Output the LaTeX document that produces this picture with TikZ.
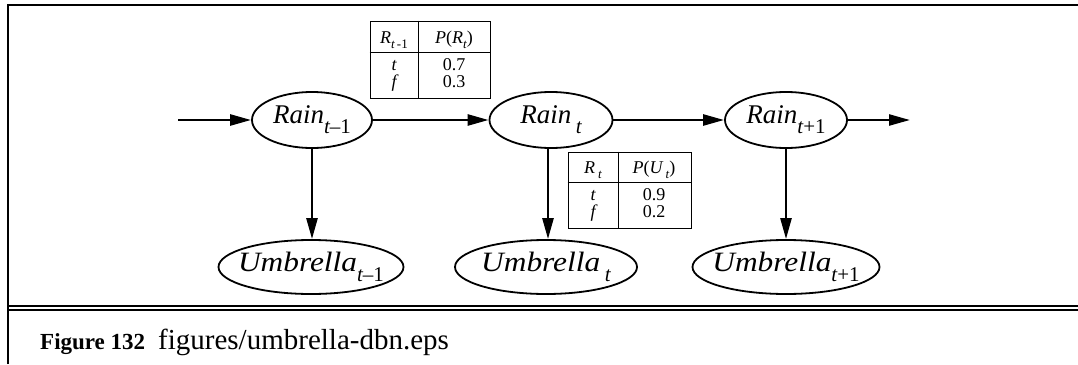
\documentclass[tikz,border=0pt]{standalone}
\usepackage{fontspec}
\setmainfont{Liberation Serif}
\usetikzlibrary{shapes.geometric,arrows.meta}
\newcommand\nsub[1]{\raisebox{-0.38em}{\fontsize{21}{21}\selectfont #1}}
\newcommand\tsub[1]{\raisebox{-0.25em}{\fontsize{13}{13}\selectfont #1}}
\newcommand\wide[1]{\scalebox{1.12}[1]{#1}}
\newcommand\nowidth[1]{\makebox[0pt]{#1}}
\begin{document}
\begin{tikzpicture}[x=1pt,y=-1pt,
  state/.style={draw, ellipse, line width=1.8pt, inner sep=0pt, minimum height=56pt, font=\fontsize{27}{27}\selectfont\itshape},
  ustate/.style={state, minimum height=54pt, font=\fontsize{28}{28}\selectfont\itshape},
  arc/.style={line width=2.5pt, -{Triangle[length=21pt,width=11pt]}},
  frame/.style={line width=2pt},
  cpt/.style={draw, line width=1pt, inner sep=0pt},
  tab/.style={font=\fontsize{18}{18}\selectfont\itshape, inner sep=0pt},
  row/.style={inner sep=0pt, text height=11pt, text depth=0pt},
  num/.style={font=\fontsize{18}{18}\selectfont, inner sep=0pt}]
\useasboundingbox (0,0) rectangle (1078,364);
% frame
\draw[frame] (8,364) -- (8,5) -- (1078,5);
\draw[frame] (8,306) -- (1078,306);
\draw[frame] (8,310) -- (1078,310);
% nodes
\node[state, minimum width=120pt] (r0) at (312,120) {\nowidth{Rain\nsub{t\upshape\textendash1}}};
\node[state, minimum width=123pt] (r1) at (551,120) {\nowidth{Rain\,\nsub{t}}};
\node[state, minimum width=122pt] (r2) at (786,120) {\nowidth{Rain\nsub{t\upshape+1}}};
\node[ustate, minimum width=185pt] (u0) at (311,267) {\nowidth{\wide{Umbrella}\nsub{t\upshape\textendash1}}};
\node[ustate, minimum width=182pt] (u1) at (546,267) {\nowidth{\wide{Umbrella}\,\nsub{t}}};
\node[ustate, minimum width=187pt] (u2) at (786,267) {\nowidth{\wide{Umbrella}\nsub{t\upshape+1}}};
\coordinate (in) at (178,120);
\coordinate (out) at (910,120);
% arcs
\draw[arc] (in) -- (r0);
\draw[arc] (r0) -- (r1);
\draw[arc] (r1) -- (r2);
\draw[arc] (r2) -- (out);
\draw[arc] (r0.south) -- (r0.south |- u0.north);
\draw[arc] ([xshift=-3pt]r1.south) -- ([xshift=-3pt]r1.south |- u1.north);
\draw[arc] (r2.south) -- (r2.south |- u2.north);
% CPT 1
\node[cpt, minimum width=120pt, minimum height=77pt] (c1) at (430,59.5) {};
\draw[line width=1pt] (c1.west |- 0,52) -- (c1.east |- 0,52);
\draw[line width=1pt] (418,0 |- c1.north) -- (418,0 |- c1.south);
\node[tab] (c1h1) at (394,40) {R\tsub{t\,\upshape -1}};
\node[tab] (c1h2) at (454,40) {P\upshape(\itshape R\tsub{t}\upshape)};
\node[tab, row] (c1a) at (394,65) {t};
\node[tab, row] (c1b) at (394,82) {f};
\node[num, row] (c1c) at (454,65) {0.7};
\node[num, row] (c1d) at (454,82) {0.3};
% CPT 2
\node[cpt, minimum width=123pt, minimum height=76pt] (c2) at (629.5,190) {};
\draw[line width=1pt] (c2.west |- 0,182) -- (c2.east |- 0,182);
\draw[line width=1pt] (618,0 |- c2.north) -- (618,0 |- c2.south);
\node[tab] (c2h1) at (593,170) {R\,\tsub{t}};
\node[tab] (c2h2) at (654,170) {P\upshape(\itshape U\,\tsub{t}\upshape)};
\node[tab, row] (c2a) at (593,195) {t};
\node[tab, row] (c2b) at (593,212) {f};
\node[num, row] (c2c) at (654,195) {0.9};
\node[num, row] (c2d) at (654,212) {0.2};
% caption
\node[anchor=base west, inner sep=0pt, font=\fontsize{23}{23}\selectfont\bfseries] (figno) at (40,349) {Figure 132};
\node[anchor=base west, inner sep=0pt, font=\fontsize{29}{29}\selectfont] (figname) at (158,349) {figures/umbrella-dbn.eps};
\end{tikzpicture}
\end{document}
